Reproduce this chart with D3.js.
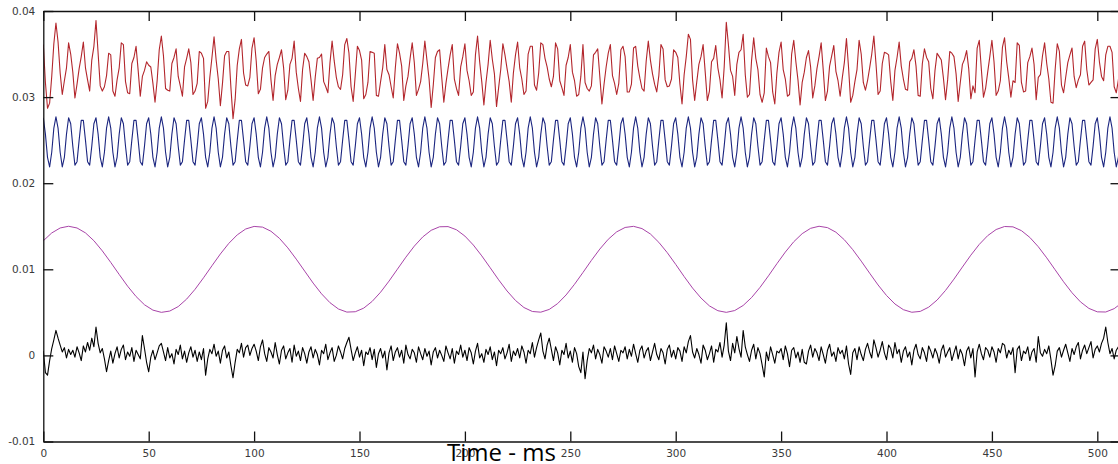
<!DOCTYPE html>
<html>
<head>
<meta charset="utf-8">
<script src="https://cdn.jsdelivr.net/npm/d3@7"></script>
<style>
  body { margin: 0; background: #fff; }
  svg { display: block; }
</style>
</head>
<body>
<svg id="chart" width="1118" height="464"></svg>
<script>
// All traces are stored in units of 1e-4 and sampled once per millisecond
// unless a step says otherwise.
const UNIT = 1e-4;
const sampleMs = 1;
const slowStepMs = 4;

const xTicks = [0, 50, 100, 150, 200, 250, 300, 350, 400, 450, 500];
const yTicks = [-0.01, 0, 0.01, 0.02, 0.03, 0.04];
const yTickLabels = ["-0.01", "0", "0.01", "0.02", "0.03", "0.04"];
const xTitle = "Time - ms";

// Sum of the tone and the noise, shifted upward
const sumTrace = [
361,317,287,293,324,362,386,364,328,303,319,334,363,350,329,299,315,333,347,364,334,320,307,343,359,
389,351,313,307,312,325,351,349,307,301,320,334,363,361,318,305,304,339,346,359,331,301,324,331,341,
337,335,316,294,319,355,371,348,310,308,307,339,346,356,324,313,301,335,345,356,340,303,307,316,353,
351,345,287,295,323,346,370,343,321,290,316,348,353,353,311,275,297,337,356,367,328,314,313,323,357,
369,342,304,309,334,346,350,353,320,296,325,338,346,355,334,297,308,338,345,365,329,310,295,332,351,
347,341,320,296,323,345,346,350,318,312,305,340,365,342,323,312,309,326,361,368,351,312,295,326,359,
354,343,298,303,317,353,352,351,302,301,318,334,361,332,326,312,299,334,362,351,336,296,313,324,345,
363,340,302,309,318,339,365,343,321,288,314,346,353,355,323,294,316,333,349,361,321,310,302,335,347,
362,331,319,302,306,349,371,341,318,291,317,338,366,344,327,289,311,332,362,349,333,318,294,328,349,
364,334,321,303,307,350,359,359,314,308,328,363,361,345,335,321,312,324,363,356,319,311,302,337,346,
361,329,319,301,303,324,361,317,310,307,313,349,352,356,324,292,315,335,351,361,325,316,303,316,355,
359,347,306,306,315,357,359,336,322,310,307,342,365,343,327,315,306,325,361,356,320,312,313,321,355,
352,346,315,292,326,347,373,367,320,296,318,338,347,361,329,296,307,341,345,360,334,320,299,335,387,
361,331,324,302,338,352,355,373,326,300,303,343,369,345,332,303,294,305,357,347,340,306,292,328,352,
364,332,321,301,303,350,366,341,320,291,317,329,346,354,335,299,313,333,347,363,331,296,307,336,348,
360,330,319,301,322,340,368,334,294,302,318,332,366,350,317,308,319,334,350,371,339,303,307,339,352,
351,349,318,296,331,346,364,336,321,309,308,341,345,355,336,302,301,339,356,346,341,310,298,331,351,
347,343,322,297,320,353,351,347,327,295,317,338,344,354,333,298,313,305,357,366,332,300,310,329,347,
366,341,302,307,319,358,369,341,322,300,319,317,363,360,317,306,307,340,347,357,338,297,323,326,348,
363,339,321,294,293,332,362,353,314,305,323,340,349,357,324,311,320,326,359,365,332,314,317,320,356,
367,341,324,319,349,359,359,352,312,305,320,345
];

// Steady tone
const toneTrace = [
276,257,230,219,236,264,277,264,236,219,230,257,276,269,243,221,225,250,273,273,250,225,221,243,269,
276,257,230,219,236,264,277,264,236,219,230,257,276,269,243,221,225,250,273,273,250,225,221,243,269,
276,257,230,219,236,264,277,264,236,219,230,257,276,269,243,221,225,250,273,273,250,225,221,243,269,
276,257,230,219,236,264,277,264,236,219,230,257,276,269,243,221,225,250,273,273,250,225,221,243,269,
276,257,230,219,236,264,277,264,236,219,230,257,276,269,243,221,225,250,273,273,250,225,221,243,269,
276,257,230,219,236,264,277,264,236,219,230,257,276,269,243,221,225,250,273,273,250,225,221,243,269,
276,257,230,219,236,264,277,264,236,219,230,257,276,269,243,221,225,250,273,273,250,225,221,243,269,
276,257,230,219,236,264,277,264,236,219,230,257,276,269,243,221,225,250,273,273,250,225,221,243,269,
276,257,230,219,236,264,277,264,236,219,230,257,276,269,243,221,225,250,273,273,250,225,221,243,269,
276,257,230,219,236,264,277,264,236,219,230,257,276,269,243,221,225,250,273,273,250,225,221,243,269,
276,257,230,219,236,264,277,264,236,219,230,257,276,269,243,221,225,250,273,273,250,225,221,243,269,
276,257,230,219,236,264,277,264,236,219,230,257,276,269,243,221,225,250,273,273,250,225,221,243,269,
276,257,230,219,236,264,277,264,236,219,230,257,276,269,243,221,225,250,273,273,250,225,221,243,269,
276,257,230,219,236,264,277,264,236,219,230,257,276,269,243,221,225,250,273,273,250,225,221,243,269,
276,257,230,219,236,264,277,264,236,219,230,257,276,269,243,221,225,250,273,273,250,225,221,243,269,
276,257,230,219,236,264,277,264,236,219,230,257,276,269,243,221,225,250,273,273,250,225,221,243,269,
276,257,230,219,236,264,277,264,236,219,230,257,276,269,243,221,225,250,273,273,250,225,221,243,269,
276,257,230,219,236,264,277,264,236,219,230,257,276,269,243,221,225,250,273,273,250,225,221,243,269,
276,257,230,219,236,264,277,264,236,219,230,257,276,269,243,221,225,250,273,273,250,225,221,243,269,
276,257,230,219,236,264,277,264,236,219,230,257,276,269,243,221,225,250,273,273,250,225,221,243,269,
276,257,230,219,236,264,277,264,236,219,230,257
];

// Slow wave, one value every slowStepMs
const slowTrace = [
133.1,142.2,148.0,150.0,148.0,142.3,133.2,121.4,108.0,94.0,80.4,68.4,58.8,52.6,50.0,51.5,
56.7,65.4,76.8,90.1,104.1,117.8,130.1,140.0,146.8,149.8,149.0,144.2,136.0,124.9,111.8,97.9,
84.0,71.5,61.2,53.9,50.3,50.7,54.9,62.7,73.4,86.3,100.2,114.1,126.9,137.6,145.3,149.4,
149.6,145.9,138.6,128.2,115.6,101.8,87.8,74.8,63.8,55.6,51.0,50.2,53.4,60.2,70.2,82.6,
96.3,110.3,123.5,134.9,143.5,148.6,149.9,147.3,141.0,131.3,119.3,105.7,91.6,78.2,66.6,57.5,
51.9,50.0,52.1,58.0,67.2,79.0,92.4,106.5,120.0,132.0,141.4,147.6,150.0,148.4,143.1,134.3,
122.8,109.5,95.5,81.8,69.6,59.7,53.1,50.1,51.1,56.0,64.3,75.5,88.6,102.6,116.4,128.9,
139.1,146.2,149.7,149.3,144.9,137.0,126.2,113.3,99.4,85.5,72.8,62.2,54.6,50.6,50.4,54.3,61.7
];

// Noise floor
const noiseTrace = [
5,-20,-23,-6,8,18,29,20,12,4,9,-3,7,1,6,-2,10,3,-6,11,4,15,6,20,10,
33,14,3,8,-4,-19,-6,5,-9,2,10,-3,7,12,-5,4,-1,9,-7,6,1,-4,23,8,-8,
-19,-2,6,-5,3,11,14,4,-6,9,-3,2,-10,7,1,12,-4,5,-8,3,10,-2,6,-7,4,
-5,8,-23,-4,7,2,13,-1,5,-9,6,11,-3,4,-12,-26,-8,7,3,14,-2,9,12,0,8,
13,5,-6,10,18,2,-7,9,4,-3,15,1,-10,6,11,-4,3,8,-8,12,-1,5,-6,9,2,
-9,4,10,-3,7,1,-11,6,2,13,-5,3,9,-7,0,11,4,-4,8,15,21,7,-6,3,10,
-2,6,-12,4,1,9,-5,7,-14,2,8,-3,5,-17,3,11,-6,4,9,-2,6,-9,12,1,-4,
7,3,-8,10,2,-5,8,-1,5,-11,4,9,-3,6,0,-7,11,3,-4,8,-9,5,1,12,-2,
6,-6,9,3,-10,5,14,-3,2,-8,7,1,10,-5,4,-12,6,2,9,-4,3,13,-7,5,0,
8,-3,11,4,-9,6,2,15,-2,9,18,26,5,-4,12,20,7,-6,10,3,-11,6,1,14,-3,
5,-8,9,2,-13,-20,4,-27,-6,8,3,12,-4,7,1,-9,10,5,-2,8,-5,11,2,-7,6,
3,10,-4,7,-1,13,2,-8,6,11,-3,5,9,-6,4,14,1,-5,8,3,-10,7,12,-2,6,
-4,9,5,-7,10,3,16,23,4,-3,8,1,-9,12,6,-5,2,11,-8,7,4,15,-2,12,38,
5,-6,14,3,22,8,-2,29,10,1,-7,6,13,-4,9,2,-11,-25,4,-6,10,1,-9,5,3,
8,-5,11,2,-13,6,9,-3,4,-8,7,-8,-10,5,12,-2,8,3,-6,10,1,-9,6,13,-1,
4,-7,9,2,6,-4,11,-10,-22,3,8,-5,10,1,-6,7,14,4,-3,18,9,-2,6,16,3,
-5,12,8,-3,15,2,7,-8,5,10,-2,4,-11,6,13,1,-4,9,3,-7,11,5,-3,8,2,
-9,6,12,-2,4,9,-6,3,11,-4,7,1,-12,5,10,-3,8,-25,4,13,2,-5,9,6,-2,
10,4,-8,8,3,14,12,-3,6,1,9,-20,7,11,-6,5,2,10,-6,4,8,-8,22,3,-1,
7,2,11,-5,-23,-12,5,9,-2,6,13,3,-7,8,1,10,15,-4,6,12,2,9,16,-3,7,
11,4,14,20,33,15,2,8,-4,6,10,8
];

const traces = [
  { name: "sum",   values: sumTrace,   step: sampleMs,   color: "#b3262c", width: 1.1 },
  { name: "tone",  values: toneTrace,  step: sampleMs,   color: "#1c2680", width: 1.1 },
  { name: "slow",  values: slowTrace,  step: slowStepMs, color: "#a844a8", width: 1.0 },
  { name: "noise", values: noiseTrace, step: sampleMs,   color: "#000000", width: 1.1 }
];

const svg = d3.select("#chart");
const plotLeft = 43.3, plotRight = 1120.5, plotTop = 11, plotBottom = 441.5;

const x = d3.scaleLinear().domain([0, 511]).range([plotLeft, plotRight]);
const y = d3.scaleLinear().domain([-0.01, 0.04]).range([plotBottom, plotTop]);

svg.append("defs").append("clipPath").attr("id", "plot-clip")
  .append("rect")
  .attr("x", plotLeft).attr("y", plotTop)
  .attr("width", plotRight - plotLeft).attr("height", plotBottom - plotTop);

const makeLine = step => d3.line()
  .x((d, i) => x(i * step))
  .y(d => y(d * UNIT));

const plot = svg.append("g").attr("clip-path", "url(#plot-clip)");
traces.forEach(t => {
  plot.append("path")
    .datum(t.values)
    .attr("class", "trace-" + t.name)
    .attr("fill", "none")
    .attr("stroke", t.color)
    .attr("stroke-width", t.width)
    .attr("stroke-linejoin", "round")
    .attr("d", makeLine(t.step));
});

// Frame: ticks point inward on all four sides
const styleAxis = g => {
  g.select(".domain").attr("stroke", "#111").attr("stroke-width", 1.3);
  g.selectAll(".tick line").attr("stroke", "#111").attr("stroke-width", 1.3);
  g.selectAll(".tick text")
    .attr("fill", "#3a3a3a")
    .style("font-family", "'DejaVu Sans', sans-serif")
    .style("font-size", "10.5px");
};

svg.append("g")
  .attr("transform", `translate(0,${plotBottom})`)
  .call(d3.axisBottom(x).tickValues(xTicks).tickSizeInner(-10).tickSizeOuter(0).tickPadding(8))
  .call(styleAxis);

svg.append("g")
  .attr("transform", `translate(0,${plotTop})`)
  .call(d3.axisTop(x).tickValues(xTicks).tickSizeInner(-10).tickSizeOuter(0).tickFormat(""))
  .call(styleAxis);

svg.append("g")
  .attr("transform", `translate(${plotLeft},0)`)
  .call(d3.axisLeft(y).tickValues(yTicks).tickSizeInner(-10).tickSizeOuter(0).tickPadding(8)
    .tickFormat((d, i) => yTickLabels[i]))
  .call(styleAxis);

svg.append("g")
  .attr("transform", `translate(${plotRight},0)`)
  .call(d3.axisRight(y).tickValues(yTicks).tickSizeInner(-10).tickSizeOuter(0).tickFormat(""))
  .call(styleAxis);

svg.append("text")
  .attr("x", 501.5)
  .attr("y", 461)
  .attr("text-anchor", "middle")
  .attr("fill", "#000")
  .style("font-family", "'Open Sans', sans-serif")
  .style("font-size", "24px")
  .text(xTitle);
</script>
</body>
</html>
